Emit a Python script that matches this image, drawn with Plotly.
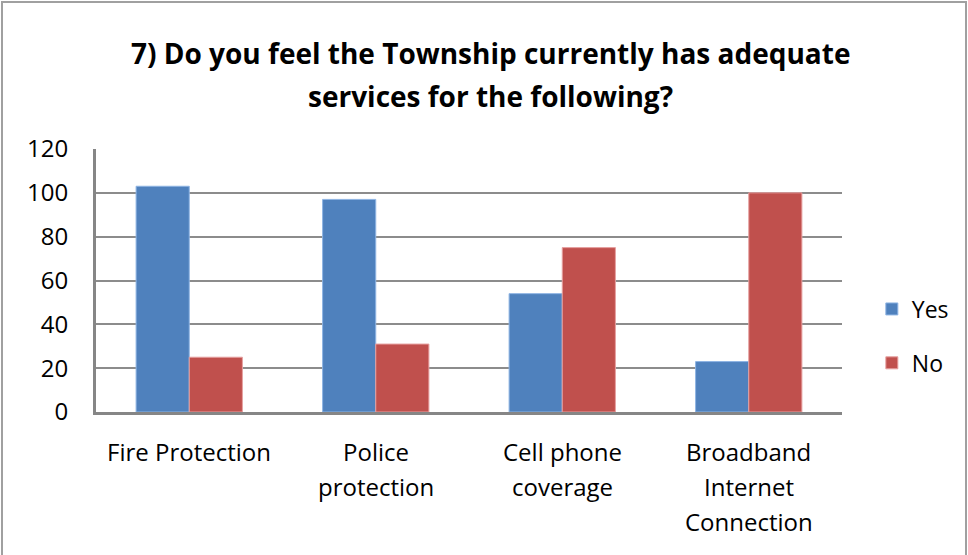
import plotly.graph_objects as go

categories = ["Fire Protection", "Police protection", "Cell phone coverage", "Broadband Internet Connection"]
category_lines = [["Fire Protection"], ["Police", "protection"], ["Cell phone", "coverage"], ["Broadband", "Internet", "Connection"]]
yes_values = [103, 97, 54, 23]
no_values = [25, 31, 75, 100]
y_ticks = [0, 20, 40, 60, 80, 100, 120]
title_lines = ["7) Do you feel the Township currently has adequate", "services for the following?"]

FONT = "Open Sans"

fig = go.Figure()
fig.add_trace(go.Bar(name="Yes", x=categories, y=yes_values, legendgroup="a",
                     marker=dict(color="#4F81BD", line=dict(color="#8EB4E3", width=1))))
fig.add_trace(go.Bar(name="No", x=categories, y=no_values, legendgroup="b",
                     marker=dict(color="#C0504D", line=dict(color="#E6A0A0", width=1))))

W, H = 968, 555
ml, mr, mt, mb = 96, 126, 149, 143
pw = W - ml - mr
ph = H - mt - mb

fig.update_layout(
    width=W, height=H,
    margin=dict(l=ml, r=mr, t=mt, b=mb),
    paper_bgcolor="white", plot_bgcolor="white",
    barmode="group", bargap=0.43, bargroupgap=0,
    font=dict(family=FONT, size=22, color="black"),
    legend=dict(x=1.04, y=0.289, xanchor="left", yanchor="middle", font=dict(size=23),
                itemwidth=30, tracegroupgap=21, bgcolor="rgba(0,0,0,0)"),
    xaxis=dict(showline=True, linecolor="#868686", linewidth=3, ticks="", showgrid=False,
               showticklabels=False),
    yaxis=dict(range=[0, 120], tickvals=y_ticks, showline=True, linecolor="#868686", linewidth=3,
               showgrid=True, gridcolor="#8C8C8C", gridwidth=2, ticks="", zeroline=False,
               tickfont=dict(size=24), ticklabelstandoff=20),
)

# category labels (multi-line, custom line spacing)
line_y = [449, 484, 519]
for cat, lines in zip(categories, category_lines):
    for i, txt in enumerate(lines):
        fig.add_annotation(x=cat, xref="x", y=0, yref="paper", yanchor="middle", xanchor="center",
                           yshift=-(line_y[i] - (H - mb)) - 2, text=txt, showarrow=False,
                           font=dict(family=FONT, size=24, color="black"))

# title lines
title_y = [52, 95]
for i, txt in enumerate(title_lines):
    fig.add_annotation(x=(490 - ml) / pw, xref="paper", y=1, yref="paper", yanchor="middle",
                       xanchor="center", yshift=mt - title_y[i] - 1, text="<b>" + txt + "</b>",
                       showarrow=False, font=dict(family=FONT, size=28, color="black"))

fig.add_shape(type="rect", xref="paper", yref="paper",
              x0=(2 - ml) / pw, x1=(W - 2 - ml) / pw,
              y0=(mb - (H - 2)) / ph, y1=(H - 2 - mb) / ph,
              line=dict(color="#A0A0A0", width=2), layer="below")

fig.write_html("out.html")
